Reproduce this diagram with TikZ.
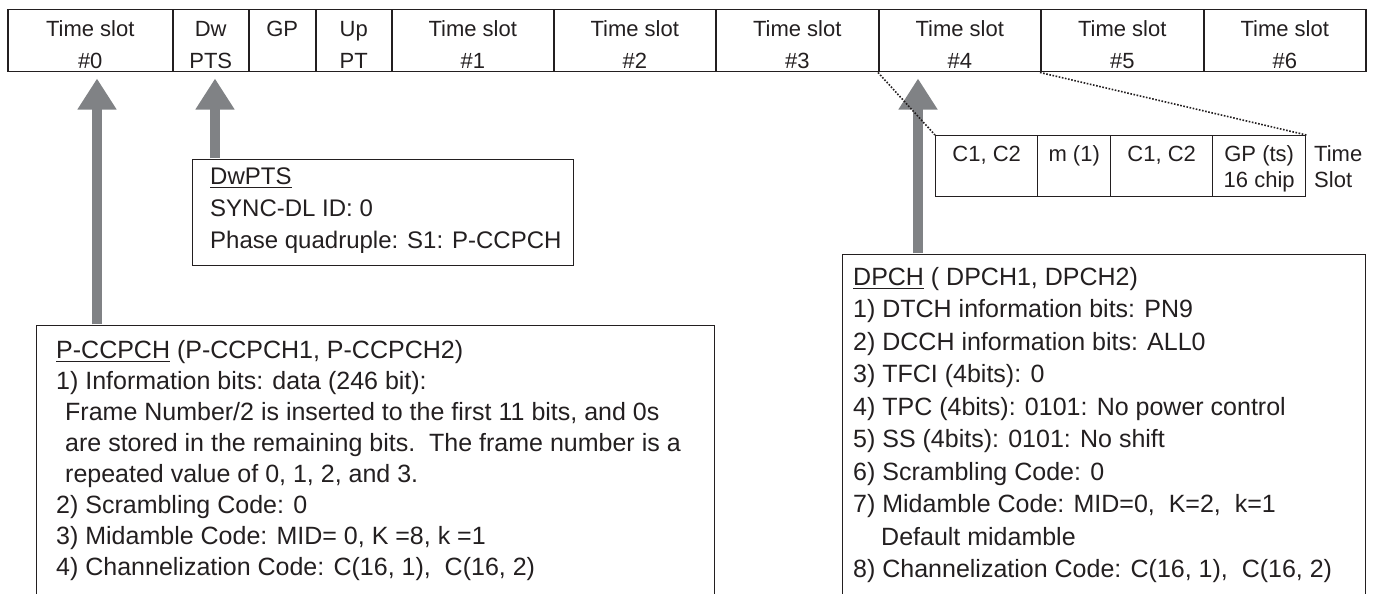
\documentclass[tikz,border=0pt]{standalone}
\usepackage{fontspec}
\setmainfont{Liberation Sans}
\usetikzlibrary{arrows.meta}
\definecolor{ink}{RGB}{35,31,32}
\definecolor{arrowgray}{RGB}{128,130,133}
\newcommand\myfs[2]{\fontsize{#1}{#2}\selectfont}
\newcommand\myul[1]{\setbox0\hbox{#1}\rlap{\rule[-4pt]{\wd0}{1.5pt}}\box0\relax}
\begin{document}
\begin{tikzpicture}[x=1pt,y=-1pt,
  cell/.style={draw=ink,line width=1.5pt,inner sep=0pt,anchor=north west,minimum height=62pt},
  celltxt/.style={anchor=north,inner sep=0pt,align=center,text=ink,font=\myfs{22}{32}},
  scell/.style={draw=ink,line width=1.4pt,inner sep=0pt,anchor=north west,minimum height=61pt},
  scelltxt/.style={anchor=north,inner sep=0pt,align=center,text=ink,font=\myfs{22}{26}},
  infobox/.style={draw=ink,line width=1.4pt,inner sep=0pt,anchor=north west},
  infotxt/.style={anchor=north west,inner sep=0pt,align=left,text=ink,font=\myfs{25}{32.5}},
  bigarrow/.style={draw=arrowgray,line width=9.5pt,-{Triangle[length=31pt,width=37pt]},shorten >=6pt,shorten <=0.7pt},
  zoomline/.style={draw=ink,line width=1.6pt,dash pattern=on 1.6pt off 1.6pt}
]
\useasboundingbox (0,0) rectangle (1377,594);
\clip (0,0) rectangle (1377,594);

% top frame
\node[cell,minimum width=165pt] (s0) at (7,9) {};
\node[cell,minimum width=76pt] (dw) at (172,9) {};
\node[cell,minimum width=67pt] (gp) at (248,9) {};
\node[cell,minimum width=76pt] (up) at (315,9) {};
\node[cell,minimum width=162pt] (s1) at (391,9) {};
\node[cell,minimum width=162pt] (s2) at (553,9) {};
\node[cell,minimum width=163pt] (s3) at (715,9) {};
\node[cell,minimum width=162pt] (s4) at (878,9) {};
\node[cell,minimum width=163pt] (s5) at (1040,9) {};
\node[cell,minimum width=162pt] (s6) at (1203,9) {};

\node[celltxt] (t0) at (s0.north) {\rule{0pt}{27pt}Time slot\\\#0};
\node[celltxt] (tdw) at (dw.north) {\rule{0pt}{27pt}Dw\\PTS};
\node[celltxt] (tgp) at (gp.north) {\rule{0pt}{27pt}GP};
\node[celltxt] (tup) at (up.north) {\rule{0pt}{27pt}Up\\PT};
\node[celltxt] (t1) at (s1.north) {\rule{0pt}{27pt}Time slot\\\#1};
\node[celltxt] (t2) at (s2.north) {\rule{0pt}{27pt}Time slot\\\#2};
\node[celltxt] (t3) at (s3.north) {\rule{0pt}{27pt}Time slot\\\#3};
\node[celltxt] (t4) at (s4.north) {\rule{0pt}{27pt}Time slot\\\#4};
\node[celltxt] (t5) at (s5.north) {\rule{0pt}{27pt}Time slot\\\#5};
\node[celltxt] (t6) at (s6.north) {\rule{0pt}{27pt}Time slot\\\#6};

% info boxes
\node[infobox,minimum width=678pt,minimum height=300pt] (pcc) at (36,325) {};
\node[infobox,minimum width=381pt,minimum height=106pt] (dwbox) at (192,159) {};
\node[infobox,minimum width=523pt,minimum height=360pt] (dpch) at (842,254) {};

% arrows
\coordinate (ax0) at (97,0);
\coordinate (ax1) at (215,0);
\coordinate (ax2) at (918,0);
\draw[bigarrow] (pcc.north -| ax0) -- (s0.south -| ax0);
\draw[bigarrow] (dwbox.north -| ax1) -- (dw.south -| ax1);
\draw[bigarrow] (dpch.north -| ax2) -- (s4.south -| ax2);

% texts of info boxes
\node[infotxt,font=\myfs{24}{32}] (dwt) at (210,159) {\rule{0pt}{25pt}\myul{DwPTS}\\SYNC-DL ID: 0\\Phase quadruple: S1: P-CCPCH};
\node[infotxt,font=\myfs{25}{31}] (pct) at (56,325) {\rule{0pt}{33pt}\myul{P-CCPCH} (P-CCPCH1, P-CCPCH2)\\
1) Information bits: data (246 bit):\\
\hspace*{9pt}Frame Number/2 is inserted to the first 11 bits, and 0s\\
\hspace*{9pt}are stored in the remaining bits.\ \ The frame number is a\\
\hspace*{9pt}repeated value of 0, 1, 2, and 3.\\
2) Scrambling Code: 0\\
3) Midamble Code: MID= 0, K =8, k =1\\
4) Channelization Code: C(16, 1),\ \ C(16, 2)};
\node[infotxt] (dpt) at (853,254) {\rule{0pt}{31pt}\myul{DPCH} ( DPCH1, DPCH2)\\
1) DTCH information bits: PN9\\
2) DCCH information bits: ALL0\\
3) TFCI (4bits): 0\\
4) TPC (4bits): 0101: No power control\\
5) SS (4bits): 0101: No shift\\
6) Scrambling Code: 0\\
7) Midamble Code: MID=0,\ \ K=2,\ \ k=1\\
\hspace*{28pt}Default midamble\\
8) Channelization Code: C(16, 1),\ \ C(16, 2)};

% time slot detail
\node[scell,minimum width=102pt] (c1) at (935,135) {};
\node[scell,minimum width=73pt] (m1) at (1037,135) {};
\node[scell,minimum width=102pt] (c2) at (1110,135) {};
\node[scell,minimum width=93pt] (gpts) at (1212,135) {};
\node[scelltxt] (c1t) at (c1.north) {\rule{0pt}{26pt}C1, C2};
\node[scelltxt] (m1t) at (m1.north) {\rule{0pt}{26pt}m (1)};
\node[scelltxt] (c2t) at (c2.north) {\rule{0pt}{26pt}C1, C2};
\node[scelltxt] (gpt) at (gpts.north) {\rule{0pt}{26pt}GP (ts)\\16 chip};
\node[anchor=north west,inner sep=0pt,align=left,text=ink,font=\myfs{22}{26}] (tsl) at (1314,135) {\rule{0pt}{26pt}Time\\Slot};

\draw[zoomline] (s4.south west) -- (c1.north west);
\draw[zoomline] (s5.south west) -- (gpts.north east);
\end{tikzpicture}
\end{document}
